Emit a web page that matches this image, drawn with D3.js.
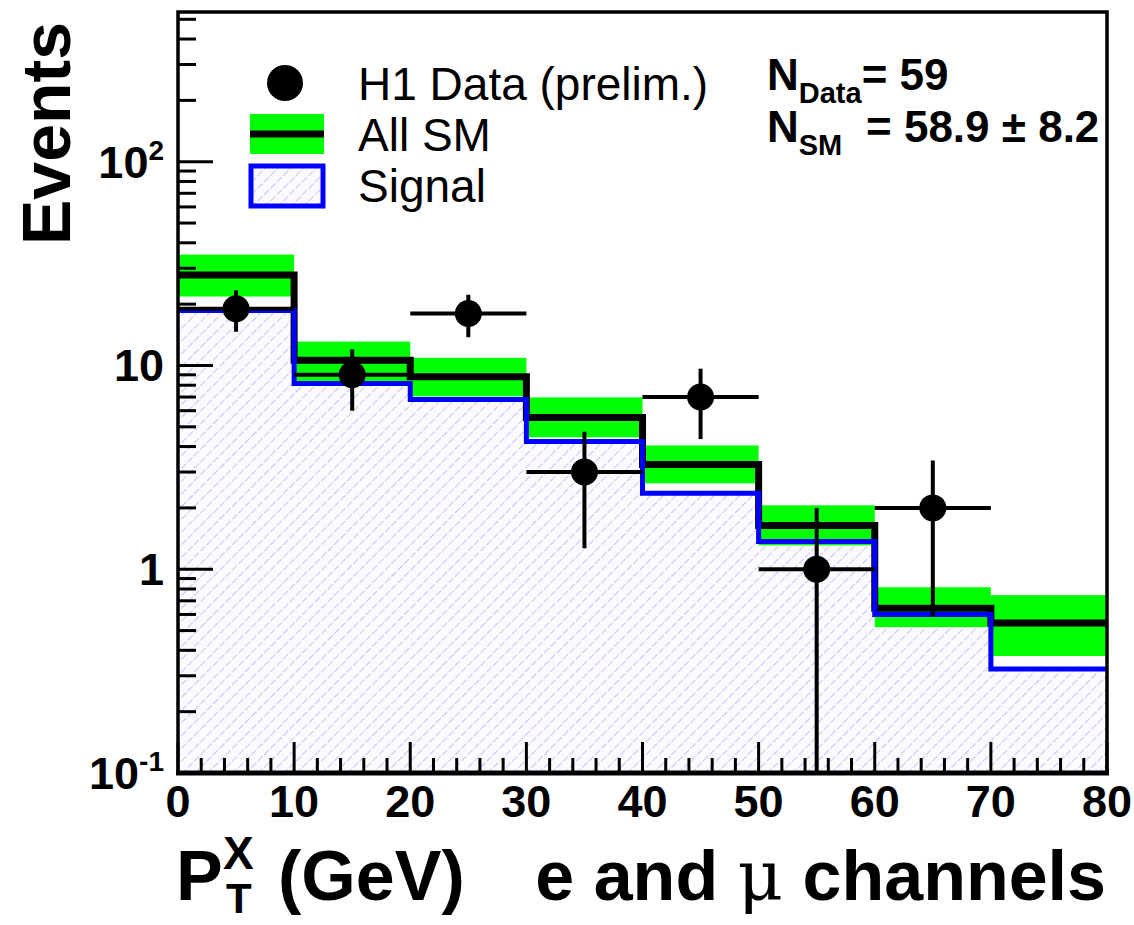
<!DOCTYPE html>
<html>
<head>
<meta charset="utf-8">
<script src="https://cdn.jsdelivr.net/npm/d3@7"></script>
<style>
body { margin: 0; background: #fff; }
svg text { font-family: "Liberation Sans", Arial, Helvetica, sans-serif; fill: #000; }
</style>
</head>
<body>
<svg id="chart" width="1134" height="925"></svg>
<script>
// bins in P_T^X (GeV)
const binEdges = [0, 10, 20, 30, 40, 50, 60, 70, 80]
// all SM prediction and its uncertainty band
const smValues = [27.8, 10.6, 8.8, 5.56, 3.27, 1.64, 0.644, 0.544]
const smUpper = [35, 13.1, 10.9, 6.97, 4.05, 2.06, 0.816, 0.746]
const smLower = [21.8, 8.4, 7.05, 4.44, 2.64, 1.31, 0.52, 0.375]
// signal contribution
const signalValues = [18.6, 8.16, 6.81, 4.24, 2.36, 1.37, 0.60, 0.324]
// H1 data
const dataCenters = [5, 15, 25, 35, 45, 55, 65]
const dataCounts = [19, 9, 18, 3, 7, 1, 2]
// axis ticks
const xTicks = [0, 10, 20, 30, 40, 50, 60, 70, 80]
const yTicks = [0.1, 1, 10, 100]
const yTickLabels = [['10', '-1'], ['1', ''], ['10', ''], ['10', '2']]

const W = 1134, H = 925
const frame = { left: 178, right: 1107, top: 12, bottom: 773 }
const yMin = 0.1, yMax = 543

const svg = d3.select('#chart')
svg.append('rect').attr('width', W).attr('height', H).attr('fill', '#fff')

const x = d3.scaleLinear().domain([0, 80]).range([frame.left, frame.right])
const y = d3.scaleLog().domain([yMin, yMax]).range([frame.bottom, frame.top])

// hatch pattern for the signal
const defs = svg.append('defs')
const pat = defs.append('pattern')
    .attr('id', 'hatch')
    .attr('patternUnits', 'userSpaceOnUse')
    .attr('width', 9).attr('height', 9)
    .attr('patternTransform', 'rotate(45)')
pat.append('rect').attr('width', 9).attr('height', 9).attr('fill', '#fbfbff')
pat.append('line')
    .attr('x1', 0).attr('y1', 0).attr('x2', 0).attr('y2', 9)
    .attr('stroke', '#c4c4f4').attr('stroke-width', 2)
    .attr('stroke-dasharray', '5,2')

defs.append('clipPath').attr('id', 'plotClip')
    .append('rect')
    .attr('x', frame.left).attr('y', frame.top)
    .attr('width', frame.right - frame.left).attr('height', frame.bottom - frame.top)

const plot = svg.append('g').attr('clip-path', 'url(#plotClip)')

// step points: (edge_i, v_i) plus closing point
const steps = (vals) => vals.map((v, i) => [binEdges[i], v]).concat([[binEdges[vals.length], vals[vals.length - 1]]])

// signal hatched area
const area = d3.area()
    .x(d => x(d[0])).y0(y(yMin)).y1(d => y(d[1]))
    .curve(d3.curveStepAfter)
plot.append('path')
    .datum(steps(signalValues))
    .attr('d', area)
    .attr('fill', 'url(#hatch)')

// SM uncertainty band
plot.append('g').selectAll('rect')
    .data(smValues.map((v, i) => ({ x0: binEdges[i], x1: binEdges[i + 1], hi: smUpper[i], lo: smLower[i] })))
    .join('rect')
    .attr('x', d => x(d.x0))
    .attr('width', d => x(d.x1) - x(d.x0))
    .attr('y', d => y(d.hi))
    .attr('height', d => y(d.lo) - y(d.hi))
    .attr('fill', '#00ff00')

const stepLine = d3.line()
    .x(d => x(d[0])).y(d => y(d[1]))
    .curve(d3.curveStepAfter)

// SM line
plot.append('path')
    .datum(steps(smValues))
    .attr('d', stepLine)
    .attr('fill', 'none')
    .attr('stroke', '#000')
    .attr('stroke-width', 7)

// signal line
plot.append('path')
    .datum(steps(signalValues))
    .attr('d', stepLine)
    .attr('fill', 'none')
    .attr('stroke', '#0000ff')
    .attr('stroke-width', 5)

// data points with errors
const pts = plot.append('g').selectAll('g')
    .data(dataCenters.map((c, i) => ({ c: c, n: dataCounts[i], e: Math.sqrt(dataCounts[i]) })))
    .join('g')
pts.append('line')
    .attr('x1', d => x(d.c - 5)).attr('x2', d => x(d.c + 5))
    .attr('y1', d => y(d.n)).attr('y2', d => y(d.n))
    .attr('stroke', '#000').attr('stroke-width', 4)
pts.append('line')
    .attr('x1', d => x(d.c)).attr('x2', d => x(d.c))
    .attr('y1', d => y(d.n + d.e))
    .attr('y2', d => y(Math.max(d.n - d.e, yMin)))
    .attr('stroke', '#000').attr('stroke-width', 4)
pts.append('circle')
    .attr('cx', d => x(d.c)).attr('cy', d => y(d.n))
    .attr('r', 13.5)
    .attr('fill', '#000')

// ticks
const axisG = svg.append('g').attr('stroke', '#000').attr('stroke-width', 3)
d3.range(0, 81, 2).forEach(v => {
    const major = v % 10 === 0
    axisG.append('line')
        .attr('x1', x(v)).attr('x2', x(v))
        .attr('y1', frame.bottom).attr('y2', frame.bottom - (major ? 31 : 15))
})
const minorY = []
for (let dec = 0.1; dec < yMax; dec *= 10) {
    for (let k = 1; k < 10; k++) {
        const v = dec * k
        if (v <= yMax) minorY.push({ v: v, major: k === 1 })
    }
}
minorY.forEach(t => {
    axisG.append('line')
        .attr('x1', frame.left).attr('x2', frame.left + (t.major ? 35 : 18))
        .attr('y1', y(t.v)).attr('y2', y(t.v))
})

// frame
svg.append('rect')
    .attr('x', frame.left).attr('y', frame.top)
    .attr('width', frame.right - frame.left).attr('height', frame.bottom - frame.top)
    .attr('fill', 'none').attr('stroke', '#000').attr('stroke-width', 3.5)
svg.append('line')
    .attr('x1', frame.left - 2).attr('x2', frame.right + 2)
    .attr('y1', frame.bottom).attr('y2', frame.bottom)
    .attr('stroke', '#000').attr('stroke-width', 5)

// x tick labels
svg.append('g').selectAll('text')
    .data(xTicks)
    .join('text')
    .attr('x', d => x(d)).attr('y', 817)
    .attr('text-anchor', 'middle')
    .attr('font-size', 45).attr('font-weight', 'bold')
    .text(d => d)

// y tick labels
yTicks.forEach((v, i) => {
    const lab = yTickLabels[i]
    const t = svg.append('text')
        .attr('x', 164).attr('y', y(v) + 16)
        .attr('text-anchor', 'end')
        .attr('font-size', 45).attr('font-weight', 'bold')
    t.append('tspan').text(lab[0])
    if (lab[1]) {
        t.append('tspan').attr('font-size', 28).attr('dy', -18).text(lab[1])
    }
})

// axis titles
svg.append('text')
    .attr('transform', 'translate(70, 22) rotate(-90)')
    .attr('text-anchor', 'end')
    .attr('font-size', 68).attr('font-weight', 'bold')
    .text('Events')

svg.append('text').attr('x', 176).attr('y', 900)
    .attr('font-size', 70).attr('font-weight', 'bold').text('P')
svg.append('text').attr('x', 223).attr('y', 869)
    .attr('font-size', 46).attr('font-weight', 'bold').text('X')
svg.append('text').attr('x', 226).attr('y', 913)
    .attr('font-size', 42).attr('font-weight', 'bold').text('T')
svg.append('text').attr('x', 278).attr('y', 900)
    .attr('font-size', 70).attr('font-weight', 'bold').text('(GeV)')
const xt = svg.append('text').attr('x', 1106).attr('y', 900)
    .attr('text-anchor', 'end')
    .attr('font-size', 70).attr('font-weight', 'bold')
xt.append('tspan').text('e and ')
xt.append('tspan').attr('font-weight', 'normal').attr('font-family', 'DejaVu Serif').text('μ')
xt.append('tspan').text(' channels')

// legend
const leg = svg.append('g')
leg.append('circle').attr('cx', 285).attr('cy', 83).attr('r', 18).attr('fill', '#000')
leg.append('rect').attr('x', 250).attr('y', 114).attr('width', 74).attr('height', 40).attr('fill', '#00ff00')
leg.append('line').attr('x1', 250).attr('x2', 324).attr('y1', 134).attr('y2', 134)
    .attr('stroke', '#000').attr('stroke-width', 7)
leg.append('rect').attr('x', 251).attr('y', 166).attr('width', 72).attr('height', 40)
    .attr('fill', 'url(#hatch)').attr('stroke', '#0000ff').attr('stroke-width', 5)
const legendLabels = ['H1 Data (prelim.)', 'All SM', 'Signal']
leg.selectAll('text.lab')
    .data(legendLabels)
    .join('text')
    .attr('class', 'lab')
    .attr('x', 358).attr('y', (d, i) => 100 + i * 51)
    .attr('font-size', 46)
    .text(d => d)

// event counts
const n1 = svg.append('text').attr('x', 767).attr('y', 90).attr('font-size', 44)
n1.append('tspan').attr('font-weight', 'bold').text('N')
n1.append('tspan').attr('font-weight', 'bold').attr('font-size', 29).attr('dy', 13).text('Data')
n1.append('tspan').attr('font-weight', 'bold').attr('dy', -13).text('= 59')

const n2 = svg.append('text').attr('x', 767).attr('y', 142).attr('font-size', 44)
n2.append('tspan').attr('font-weight', 'bold').text('N')
n2.append('tspan').attr('font-weight', 'bold').attr('font-size', 29).attr('dy', 13).text('SM')
n2.append('tspan').attr('font-weight', 'bold').attr('dy', -13).attr('x', 866).text('= 58.9 ± 8.2')
</script>
</body>
</html>
